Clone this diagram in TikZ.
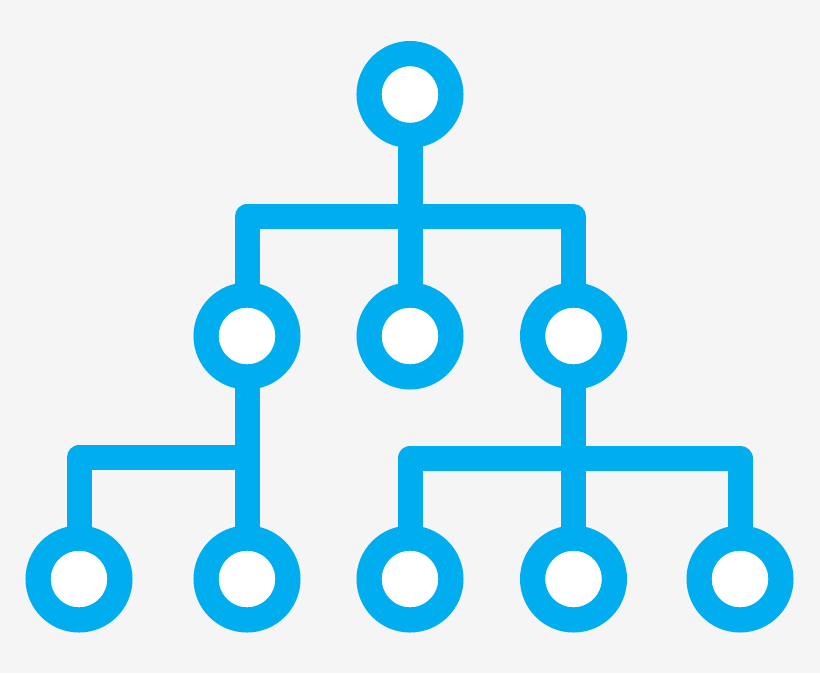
\documentclass[tikz,border=0pt]{standalone}
\definecolor{bluetree}{HTML}{00AEEF}
\definecolor{bgc}{HTML}{F5F5F5}
\pgfdeclarelayer{bg}
\pgfdeclarelayer{edges}
\pgfsetlayers{bg,edges,main}
\begin{document}
\begin{tikzpicture}[x=1pt,y=-1pt,
  ring/.style={circle, draw=bluetree, fill=white, line width=25.2pt, minimum size=81.8pt, inner sep=0pt, outer sep=0pt},
  conn/.style={draw=bluetree, line width=25pt, line join=round}]
\begin{pgfonlayer}{bg}
\fill[bgc] (0,0) rectangle (820,673);
\end{pgfonlayer}
\useasboundingbox (0,0) rectangle (820,673);
% nodes
\node[ring] (T) at (410,94.5) {};
\node[ring] (L) at (247,336) {};
\node[ring] (M) at (410,336) {};
\node[ring] (R) at (573.5,336) {};
\node[ring] (A) at (79,579) {};
\node[ring] (B) at (247,579) {};
\node[ring] (C) at (410,579) {};
\node[ring] (E) at (573.5,579) {};
\node[ring] (F) at (740,579) {};
\coordinate (topbar) at (0,216.5);
\coordinate (lbar) at (0,457.5);
\coordinate (rbar) at (0,458);
\begin{pgfonlayer}{edges}
\draw[conn] (T.center) -- (M.center);
\draw[conn] (L.center) -- (L.center |- topbar) -- (R.center |- topbar) -- (R.center);
\draw[conn] (L.center) -- (B.center);
\draw[conn] (A.center) -- (A.center |- lbar) -- (B.center |- lbar);
\draw[conn] (R.center) -- (E.center);
\draw[conn] (C.center) -- (C.center |- rbar) -- (F.center |- rbar) -- (F.center);
\end{pgfonlayer}
\end{tikzpicture}
\end{document}
